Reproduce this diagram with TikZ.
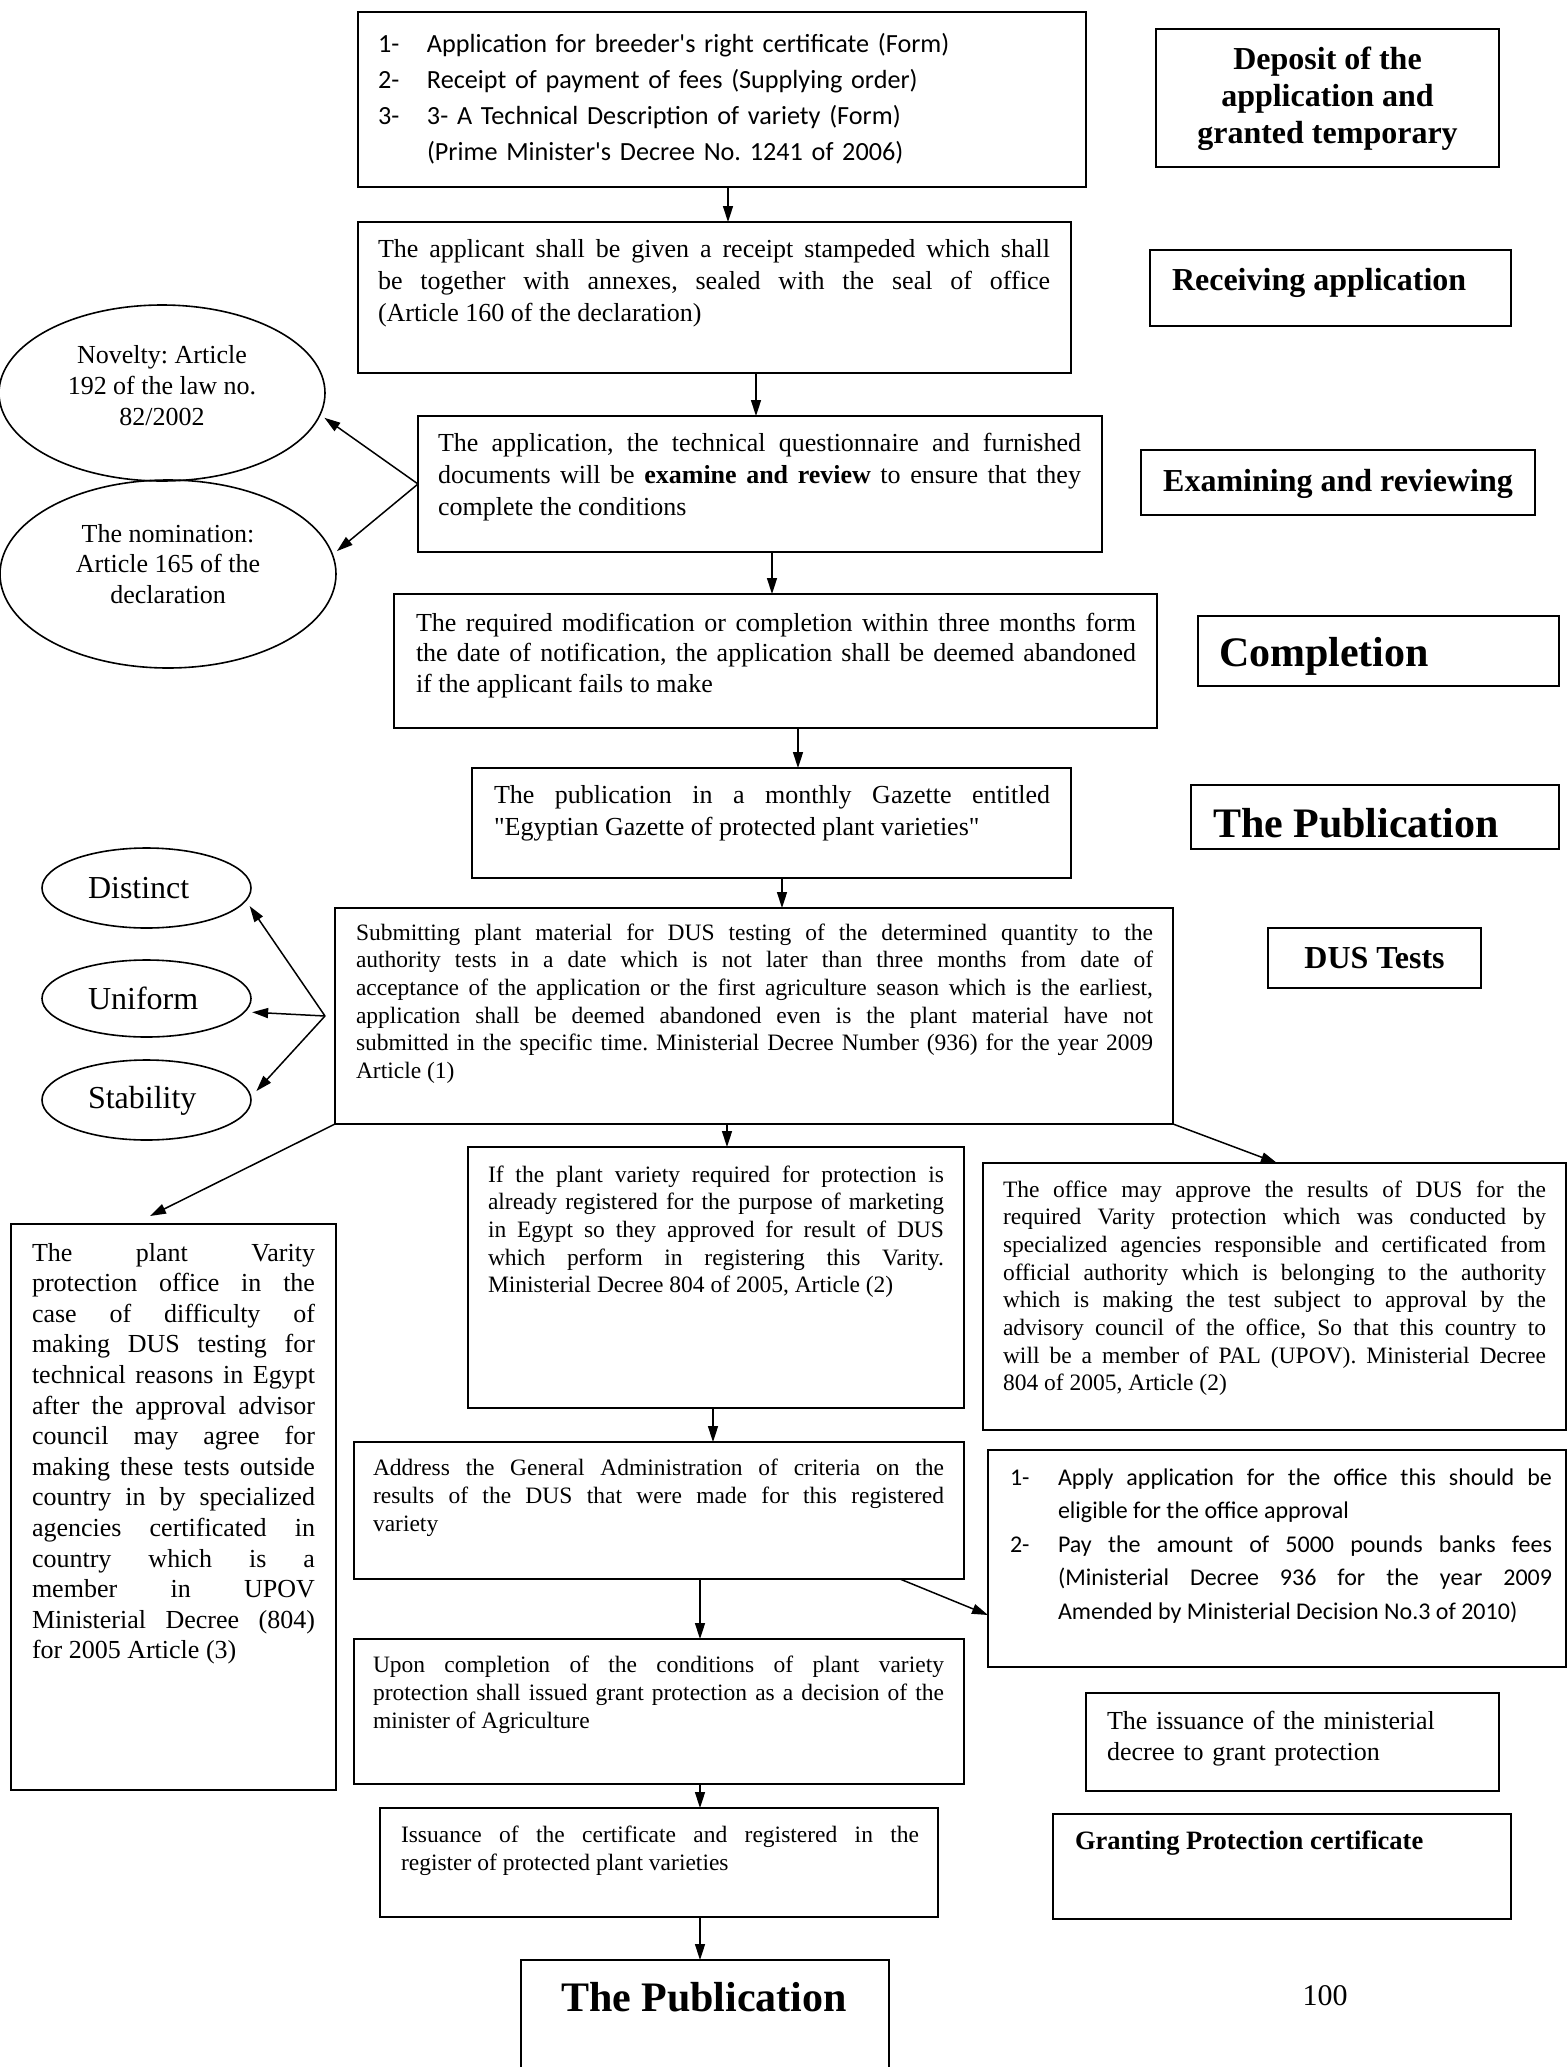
\documentclass[tikz,border=0pt]{standalone}
\usepackage{fontspec}
\setmainfont{Liberation Serif}[Ligatures=TeXOff]
\newfontfamily\calfont{Carlito}[Ligatures=TeXOff]
\usetikzlibrary{arrows.meta,shapes.geometric,calc}
\tolerance=9999 \hyphenpenalty=10000 \hbadness=10000 \vbadness=10000
\frenchspacing
\begin{document}
\begin{tikzpicture}[x=1pt,y=-1pt,
  frame/.style={draw, line width=2pt, inner sep=0pt, outer sep=0pt, anchor=north west},
  body/.style={anchor=base west, inner sep=0pt, outer sep=0pt, align=justify},
  lbl/.style={inner sep=0pt, outer sep=0pt},
  oval/.style={draw, ellipse, line width=1.6pt, inner sep=0pt, outer sep=0pt},
  arr/.style={-{Triangle[length=16pt,width=10pt]}, line width=1.5pt},
  serA/.style={font=\fontsize{26}{32}\selectfont},
  serB/.style={font=\fontsize{23.5}{27.7}\selectfont},
  hdA/.style={font=\bfseries\fontsize{32}{37}\selectfont},
  hdB/.style={font=\bfseries\fontsize{42}{48}\selectfont}]
\fill[white] (0,0) rectangle (1568,2067);
\useasboundingbox (0,0) rectangle (1568,2067);

% ---------- boxes ----------
\node[frame, minimum width=728pt, minimum height=175pt] (b1) at (358,12) {};
\node[frame, minimum width=343pt, minimum height=138pt] (dep) at (1156,29) {};
\node[frame, minimum width=713pt, minimum height=151pt] (b2) at (358,222) {};
\node[frame, minimum width=361pt, minimum height=76pt] (rec) at (1150,250) {};
\node[frame, minimum width=684pt, minimum height=136pt] (b3) at (418,416) {};
\node[frame, minimum width=394pt, minimum height=65pt] (exam) at (1141,450) {};
\node[frame, minimum width=763pt, minimum height=134pt] (b4) at (394,594) {};
\node[frame, minimum width=361pt, minimum height=70pt] (comp) at (1198,616) {};
\node[frame, minimum width=599pt, minimum height=110pt] (b5) at (472,768) {};
\node[frame, minimum width=368pt, minimum height=64pt] (pub) at (1191,785) {};
\node[frame, minimum width=838pt, minimum height=216pt] (b6) at (335,908) {};
\node[frame, minimum width=213pt, minimum height=60pt] (dus) at (1268,928) {};
\node[frame, minimum width=496pt, minimum height=261pt] (b7) at (468,1147) {};
\node[frame, minimum width=583pt, minimum height=267pt] (b8) at (983,1163) {};
\node[frame, minimum width=325pt, minimum height=566pt] (lb) at (11,1224) {};
\node[frame, minimum width=610pt, minimum height=137pt] (b9) at (354,1442) {};
\node[frame, minimum width=578pt, minimum height=217pt] (b10) at (988,1450) {};
\node[frame, minimum width=610pt, minimum height=145pt] (b11) at (354,1639) {};
\node[frame, minimum width=413pt, minimum height=98pt] (mini) at (1086,1693) {};
\node[frame, minimum width=558pt, minimum height=109pt] (b12) at (380,1808) {};
\node[frame, minimum width=458pt, minimum height=105pt] (grant) at (1053,1814) {};
\node[frame, minimum width=368pt, minimum height=150pt] (b13) at (521,1960) {};

% ---------- ellipses ----------
\node[oval, minimum width=326pt, minimum height=176pt] (e1) at (162,393) {};
\node[oval, minimum width=336pt, minimum height=188pt] (e2) at (168,574) {};
\node[oval, minimum width=209pt, minimum height=80pt] (ed) at (146.5,888) {};
\node[oval, minimum width=209pt, minimum height=77pt] (eu) at (146.5,998.5) {};
\node[oval, minimum width=209pt, minimum height=80pt] (es) at (146.5,1100) {};

% ---------- texts ----------
\node[body, align=left, text width=700pt, font=\calfont\fontsize{26.2}{36}\selectfont] (t1) at (378,52)
 {\makebox[49pt][l]{1-}Application for breeder's right certificate (Form)\\
  \makebox[49pt][l]{2-}Receipt of payment of fees (Supplying order)\\
  \makebox[49pt][l]{3-}3- A Technical Description of variety (Form)\\
  \hspace*{49pt}(Prime Minister's Decree No. 1241 of 2006)};
\node[lbl, hdA, align=center] (tdep) at (1327.5,99) {Deposit of the\\application and\\granted temporary};

\node[body, serA, text width=672pt] (t2) at (378,257)
 {The applicant shall be given a receipt stampeded which shall\linebreak
  be together with annexes, sealed with the seal of office\linebreak
  (Article 160 of the declaration)};
\node[lbl, hdA, anchor=west] (trec) at (1172,283) {Receiving application};

\node[body, serA, text width=643pt] (t3) at (438,451)
 {The application, the technical questionnaire and furnished\linebreak
  documents will be \textbf{examine and review} to ensure that they\linebreak
  complete the conditions};
\node[lbl, hdA] (texam) at (1338,484) {Examining and reviewing};

\node[lbl, font=\fontsize{26}{31}\selectfont, align=center] (te1) at (162,386) {Novelty: Article\\192 of the law no.\\82/2002};
\node[lbl, font=\fontsize{26}{30.5}\selectfont, align=center] (te2) at (168,564) {The nomination:\\Article 165 of the\\declaration};

\node[body, font=\fontsize{26}{30.5}\selectfont, text width=720pt] (t4) at (416,631)
 {The required modification or completion within three months form\linebreak
  the date of notification, the application shall be deemed abandoned\linebreak
  if the applicant fails to make};
\node[lbl, hdB, anchor=west] (tcomp) at (1219,656) {Completion};

\node[body, serA, text width=556pt] (t5) at (494,803)
 {The publication in a monthly Gazette entitled\linebreak
  "Egyptian Gazette of protected plant varieties"};
\node[lbl, hdB, anchor=west] (tpub) at (1213,823) {The Publication};

\node[body, serB, text width=797pt] (t6) at (356,940)
 {Submitting plant material for DUS testing of the determined quantity to the\linebreak
  authority tests in a date which is not later than three months from date of\linebreak
  acceptance of the application or the first agriculture season which is the earliest,\linebreak
  application shall be deemed abandoned even is the plant material have not\linebreak
  submitted in the specific time. Ministerial Decree Number (936) for the year 2009\linebreak
  Article (1)};
\node[lbl, hdA] (tdus) at (1374.5,958) {DUS Tests};

\node[lbl, font=\fontsize{32}{36}\selectfont, anchor=west] (td) at (88,888) {Distinct};
\node[lbl, font=\fontsize{32}{36}\selectfont, anchor=west] (tu) at (88,998.5) {Uniform};
\node[lbl, font=\fontsize{32}{36}\selectfont, anchor=west] (ts) at (88,1101) {Stability};

\node[body, serB, text width=456pt] (t7) at (488,1182)
 {If the plant variety required for protection is\linebreak
  already registered for the purpose of marketing\linebreak
  in Egypt so they approved for result of DUS\linebreak
  which perform in registering this Varity.\linebreak
  Ministerial Decree 804 of 2005, Article (2)};

\node[body, serB, text width=543pt] (t8) at (1003,1197)
 {The office may approve the results of DUS for the\linebreak
  required Varity protection which was conducted by\linebreak
  specialized agencies responsible and certificated from\linebreak
  official authority which is belonging to the authority\linebreak
  which is making the test subject to approval by the\linebreak
  advisory council of the office, So that this country to\linebreak
  will be a member of PAL (UPOV). Ministerial Decree\linebreak
  804 of 2005, Article (2)};

\node[body, font=\fontsize{26}{30.6}\selectfont, text width=283pt] (tl) at (32,1261)
 {The plant Varity\linebreak
  protection office in the\linebreak
  case of difficulty of\linebreak
  making DUS testing for\linebreak
  technical reasons in Egypt\linebreak
  after the approval advisor\linebreak
  council may agree for\linebreak
  making these tests outside\linebreak
  country in by specialized\linebreak
  agencies certificated in\linebreak
  country which is a\linebreak
  member in UPOV\linebreak
  Ministerial Decree (804)\linebreak
  for 2005 Article (3)};

\node[body, font=\fontsize{23.5}{28}\selectfont, text width=571pt] (t9) at (373,1475)
 {Address the General Administration of criteria on the\linebreak
  results of the DUS that were made for this registered\linebreak
  variety};

\node[body, font=\calfont\fontsize{24}{33.5}\selectfont, text width=542pt] (t10a) at (1010,1485)
 {\noindent\hangindent=48pt\hangafter=1\makebox[48pt][l]{1-}Apply application for the office this should be\linebreak
  eligible for the office approval\par};
\node[body, font=\calfont\fontsize{24}{33.5}\selectfont, text width=542pt] (t10b) at (1010,1552)
 {\noindent\hangindent=48pt\hangafter=1\makebox[48pt][l]{2-}Pay the amount of 5000 pounds banks fees\linebreak
  (Ministerial Decree 936 for the year 2009\linebreak
  Amended by Ministerial Decision No.3 of 2010)\par};

\node[body, font=\fontsize{23.5}{28}\selectfont, text width=571pt] (t11) at (373,1672)
 {Upon completion of the conditions of plant variety\linebreak
  protection shall issued grant protection as a decision of the\linebreak
  minister of Agriculture};

\node[body, align=left, font=\fontsize{26}{31}\selectfont, text width=380pt] (tmini) at (1107,1729)
 {The issuance of the ministerial\\decree to grant protection};

\node[body, font=\fontsize{23.5}{28}\selectfont, text width=518pt] (t12) at (401,1842)
 {Issuance of the certificate and registered in the\linebreak
  register of protected plant varieties};

\node[lbl, font=\bfseries\fontsize{26.5}{30}\selectfont, anchor=west] (tgrant) at (1075,1843) {Granting Protection certificate};

\node[lbl, hdB] (t13) at (704,1997) {The Publication};
\node[lbl, font=\fontsize{30}{34}\selectfont] (pnum) at (1325,1996) {100};

% ---------- connectors ----------
\draw[arr] (b1.south -| 728,0) -- (b2.north -| 728,0);
\draw[arr] (b2.south -| 756,0) -- (b3.north -| 756,0);
\draw[arr] (b3.south -| 772,0) -- (b4.north -| 772,0);
\draw[arr] (b4.south -| 798,0) -- (b5.north -| 798,0);
\draw[arr] (b5.south -| 782,0) -- (b6.north -| 782,0);
\draw[arr] (b6.south -| 727,0) -- (b7.north -| 727,0);
\draw[arr] (b7.south -| 713,0) -- (b9.north -| 713,0);
\draw[arr] (b9.south -| 700,0) -- (b11.north -| 700,0);
\draw[arr] (b11.south -| 700,0) -- (b12.north -| 700,0);
\draw[arr] (b12.south -| 700,0) -- (b13.north -| 700,0);

\draw[arr] (b3.west) -- ([xshift=6pt]e1.-9);
\draw[arr] (b3.west) -- ([xshift=6pt]e2.8);

\coordinate (hub) at ([xshift=-10pt]b6.west);
\draw[arr] (hub) -- ([xshift=10pt]ed.-11);
\draw[arr] (hub) -- ([xshift=8pt]eu.-8);
\draw[arr] (hub) -- ([xshift=8pt]es.5);

\draw[arr] (b6.south west) -- ($(lb.north -| 150,0)+(0,-8)$);
\draw[arr] (b6.south east) -- (b8.north -| 1277,0);
\draw[arr] (b9.south -| 900,0) -- (b10.west |- 0,1615);
\end{tikzpicture}
\end{document}
